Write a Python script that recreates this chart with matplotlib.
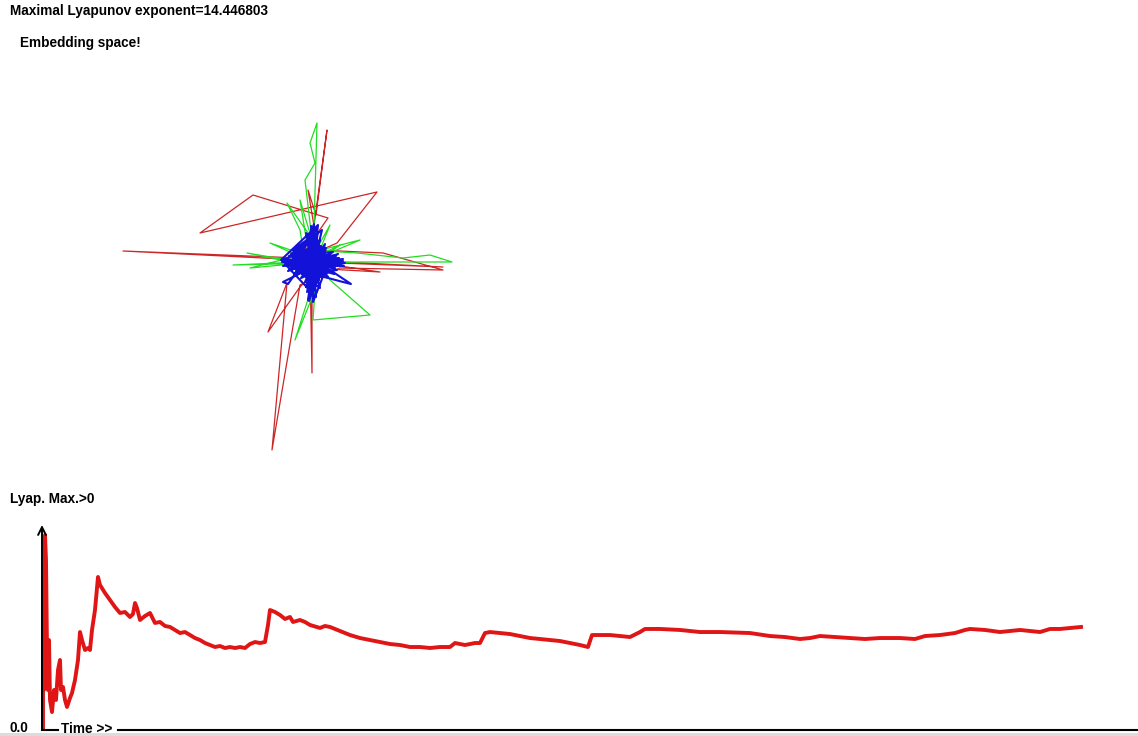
import matplotlib
matplotlib.use("Agg")
import matplotlib.pyplot as plt
from matplotlib.patches import Rectangle

# ---------------- data ----------------
title_text = "Maximal Lyapunov exponent=14.446803"
embed_label = "Embedding space!"
lyap_label = "Lyap. Max.>0"
zero_label = "0.0"
time_label = "Time >>"

# embedding-space trajectories (delay coordinates, arbitrary units)
red_x = [0.00, 1.30, -1.90, -0.13, 0.15, -0.60, -1.13, 0.64, 0.24, -0.03, 0.14, 0.03, -0.05, 0.05,
         0.70, 1.30, 0.27, -0.13, -0.41, -0.26, -0.45, -0.13, -0.01, -0.01, -0.03, 0.67, 0.00]
red_y = [0.00, -0.05, 0.11, 0.04, 0.44, 0.67, 0.29, 0.70, 0.19, 0.07, 1.32, 0.47, 0.72, 0.12,
         0.09, -0.08, -0.06, -0.23, -1.88, -0.21, -0.70, -0.25, -0.13, -1.11, -0.06, -0.10, 0.00]

green_x = [0.00, 0.04, -0.03, 0.02, -0.08, -0.01, -0.13, -0.05, 0.44, 0.90, 1.17, 1.39, 0.47, -0.80,
           -0.13, -0.66, 0.17, -0.43, 0.07, 0.17, 0.57, 0.00, 0.02, -0.18, -0.03, -0.13, -0.26, 0.07,
           0.17, -0.08, 0.27, -0.23, 0.47, -0.63, 0.00]
green_y = [0.00, 1.39, 1.19, 0.99, 0.82, 0.22, 0.62, 0.12, 0.09, 0.04, 0.07, 0.00, 0.00, -0.03,
           0.00, 0.09, -0.08, 0.19, 0.02, -0.18, -0.53, -0.58, -0.28, -0.78, -0.31, 0.32, 0.59, 0.12,
           0.37, -0.08, 0.17, -0.08, 0.22, -0.06, 0.00]

blue_x = [0.00, 0.12, -0.10, 0.25, -0.20, 0.05, -0.04, 0.15, -0.14, 0.30, -0.28, 0.03, -0.02, 0.10,
          -0.08, 0.18, -0.16, 0.06, -0.06, 0.22, -0.24, 0.02, -0.03, 0.13, -0.12, 0.32, -0.31, 0.04,
          -0.05, 0.08, -0.09, 0.20, -0.18, 0.01, 0.00, 0.14, -0.15, 0.26, -0.26, 0.07, -0.07, 0.11,
          -0.11, 0.17, -0.17, 0.03, -0.02, 0.24, -0.22, 0.09, -0.06, 0.16, -0.13, 0.28, -0.29, 0.05,
          -0.04, 0.10, -0.10, 0.21, -0.20, 0.02, -0.01, 0.12, -0.12, 0.30, -0.30, 0.06, -0.05, 0.15,
          -0.16, 0.19, -0.19, 0.04, -0.03, 0.09, -0.08, 0.23, -0.23, 0.01, -0.02, 0.13, -0.14, 0.27,
          -0.27, 0.07, -0.07, 0.11, -0.11, 0.18, -0.18, 0.03, -0.03, 0.25, -0.25, 0.08, -0.08, 0.14,
          -0.13, 0.31, -0.32, 0.05, -0.04, 0.00, -0.30, -0.25, -0.15, 0.30, 0.38, 0.20, 0.00]
blue_y = [0.00, 0.05, -0.08, -0.02, 0.03, 0.30, -0.22, -0.10, 0.12, 0.01, -0.02, -0.35, 0.36, 0.08,
          -0.14, 0.03, -0.05, -0.18, 0.20, -0.06, 0.06, 0.15, -0.28, 0.14, -0.10, -0.01, 0.00, 0.25,
          -0.38, -0.06, 0.07, 0.10, -0.12, 0.38, -0.40, -0.04, 0.02, 0.04, -0.04, 0.22, -0.25, -0.11,
          0.11, 0.00, -0.01, 0.10, -0.12, -0.08, 0.08, 0.32, -0.30, 0.06, -0.07, -0.03, 0.03, -0.20,
          0.24, 0.02, -0.03, -0.12, 0.12, 0.28, -0.33, 0.18, -0.16, 0.03, -0.04, 0.12, -0.15, -0.15,
          0.15, -0.03, 0.01, 0.34, -0.36, -0.09, 0.09, 0.06, -0.07, 0.20, -0.19, -0.05, 0.04, 0.00,
          0.01, -0.26, 0.29, 0.11, -0.12, -0.09, 0.09, 0.05, -0.06, 0.08, -0.09, 0.16, -0.20, 0.01,
          -0.02, -0.04, 0.02, 0.37, -0.39, -0.05, -0.20, -0.22, -0.08, -0.20, -0.22, -0.10, 0.00]

# running estimate of maximal Lyapunov exponent vs time
lyap_t = [1, 1, 2, 3, 4, 5, 6, 7, 8, 10, 12, 14, 16, 18, 19, 21, 23, 25, 28, 30, 33, 36, 38, 40,
          43, 46, 48, 50, 53, 56, 58, 63, 68, 73, 78, 83, 88, 91, 93, 95, 98, 103, 108, 113, 118,
          123, 128, 133, 138, 143, 148, 153, 158, 163, 168, 173, 178, 183, 188, 193, 198, 203, 208,
          213, 218, 223, 226, 228, 233, 238, 243, 248, 251, 258, 263, 268, 278, 283, 288, 298, 308,
          318, 328, 338, 348, 358, 368, 378, 388, 398, 408, 413, 423, 433, 438, 443, 448, 458, 468,
          478, 488, 498, 508, 518, 528, 538, 546, 550, 558, 568, 578, 588, 598, 603, 618, 638, 658,
          678, 708, 728, 743, 758, 768, 778, 793, 808, 823, 838, 858, 873, 883, 898, 913, 923, 928,
          943, 958, 968, 978, 988, 998, 1008, 1018, 1028, 1039]
lyap_v = [0.14, 21.32, 5.61, 27.35, 23.84, 11.22, 5.61, 12.62, 4.21, 2.52, 5.61, 4.21, 8.42, 9.82,
          5.61, 6.03, 4.21, 3.23, 4.49, 5.19, 7.01, 9.82, 13.74, 12.62, 11.22, 11.50, 11.22, 14.03,
          16.83, 21.46, 20.34, 19.21, 18.23, 17.25, 16.41, 16.55, 15.85, 16.27, 17.81, 17.11, 15.43,
          15.99, 16.41, 15.01, 15.15, 14.59, 14.45, 14.03, 13.60, 13.74, 13.32, 12.90, 12.62, 12.20,
          11.92, 11.64, 11.78, 11.50, 11.64, 11.50, 11.64, 11.50, 12.06, 12.34, 12.20, 12.34, 14.73,
          16.83, 16.55, 16.13, 15.57, 15.85, 15.15, 15.43, 15.15, 14.73, 14.31, 14.59, 14.45, 13.88,
          13.32, 12.90, 12.62, 12.34, 12.06, 11.92, 11.64, 11.64, 11.50, 11.64, 11.64, 12.20, 11.92,
          12.20, 12.20, 13.60, 13.74, 13.60, 13.46, 13.18, 12.90, 12.76, 12.62, 12.48, 12.20, 11.92,
          11.64, 13.32, 13.32, 13.32, 13.18, 13.04, 13.74, 14.17, 14.17, 14.03, 13.74, 13.74, 13.60,
          13.18, 13.04, 12.76, 12.90, 13.18, 13.04, 12.90, 12.76, 12.90, 12.90, 12.76, 13.18, 13.32,
          13.60, 14.03, 14.17, 14.03, 13.74, 13.88, 14.03, 13.88, 13.74, 14.17, 14.17, 14.31, 14.45]
assert len(lyap_t) == len(lyap_v), (len(lyap_t), len(lyap_v))
assert len(red_x) == len(red_y) and len(green_x) == len(green_y) and len(blue_x) == len(blue_y)

# ---------------- figure ----------------
W, H = 1138, 736
fig = plt.figure(figsize=(W / 100, H / 100), dpi=100)
fig.patch.set_facecolor("white")

def fx(px):
    return px / W

def fy(py):
    return 1 - py / H

font = dict(family=["Liberation Sans", "DejaVu Sans"], fontweight="bold", fontsize=9.8, color="black")

# top panel: embedding space
top_frac = 0.66
ax_top = fig.add_axes([0, 1 - top_frac, 1, top_frac])
ax_top.set_axis_off()
top_h = H * top_frac
ax_top.set_xlim(-313 / 100, (W - 313) / 100)
ax_top.set_ylim(-(top_h - 262) / 100, 262 / 100)
ax_top.plot(red_x, red_y, color="#cc2626", lw=0.9)
ax_top.plot(green_x, green_y, color="#22dd22", lw=0.9)
ax_top.plot(blue_x, blue_y, color="#1212d8", lw=1.5)

# bottom panel: Lyapunov exponent vs time
ax_bot = fig.add_axes([fx(42), 6 / H, (W - 42) / W, 205 / H])
ax_bot.set_axis_off()
ax_bot.set_xlim(0, W - 42)
ax_bot.set_ylim(0, 205 / 7.13)
ax_bot.plot(lyap_t, lyap_v, color="#e01515", lw=2.8, solid_joinstyle="round", clip_on=False)
ax_bot.annotate("", xy=(0, 1), xytext=(0, 0), xycoords="axes fraction",
                arrowprops=dict(arrowstyle="->", lw=1.4, color="black", mutation_scale=14,
                                shrinkA=0, shrinkB=0))
ax_bot.axhline(0, xmin=0, xmax=16 / (W - 42), color="black", lw=1.5, clip_on=False)
ax_bot.axhline(0, xmin=76 / (W - 42), xmax=1, color="black", lw=1.5, clip_on=False)

# texts
fig.text(fx(10), fy(11), title_text, ha="left", va="center", **font)
fig.text(fx(20), fy(43), embed_label, ha="left", va="center", **font)
fig.text(fx(10), fy(499), lyap_label, ha="left", va="center", **font)
fig.text(fx(10), fy(728), zero_label, ha="left", va="center", **font)
fig.text(fx(61), fy(729), time_label, ha="left", va="center", **font)

# light gray strip at the very bottom (window edge)
fig.patches.append(Rectangle((0, 0), 1, 3 / H, transform=fig.transFigure,
                             facecolor="#dcdcdc", edgecolor="none", zorder=-1))

fig.savefig("out.png", dpi=100, facecolor="white")
